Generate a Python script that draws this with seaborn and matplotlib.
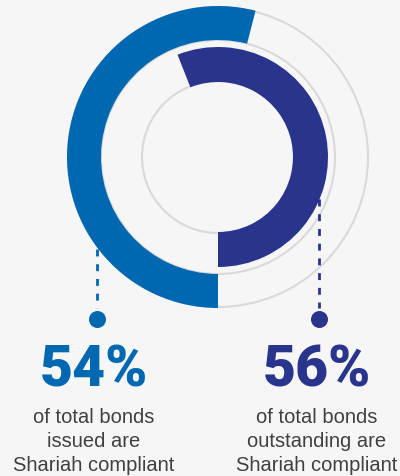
import matplotlib
matplotlib.use("Agg")
from matplotlib import pyplot as plt
import seaborn as sns

# shares of Shariah compliant bonds (percent)
labels = ["issued", "outstanding"]
shares = [54, 56]
pct_labels = ["54%", "56%"]
captions = [["of total bonds", "issued are", "Shariah compliant"],
            ["of total bonds", "outstanding are", "Shariah compliant"]]
colors = ["#0068b0", "#29348c"]

sns.set_theme(style="white")
plt.rcParams['font.family'] = ['Liberation Sans', 'DejaVu Sans']

bg = "#f6f6f6"
grey = "#d9d9d9"
fig = plt.figure(figsize=(4.0, 4.77), dpi=100, facecolor=bg)
ax = fig.add_axes([0, 0, 1, 1])
ax.set_facecolor(bg)

H = 477
cx, cy = 218, H - 158

# thin grey guide circles
for r in [150, 117, 76]:
    ax.add_patch(plt.Circle((cx, cy), r, fill=False, ec=grey, lw=1.5, zorder=1))

# outer ring: issued, clockwise from the bottom
ax.pie([shares[0], 100 - shares[0]], center=(cx, cy), radius=151,
       startangle=270, counterclock=False, colors=[colors[0], "none"],
       wedgeprops=dict(width=34, edgecolor="none"))
# inner ring: outstanding, counter-clockwise from the bottom
ax.pie([shares[1], 100 - shares[1]], center=(cx, cy), radius=110,
       startangle=270, counterclock=True, colors=[colors[1], "none"],
       wedgeprops=dict(width=35, edgecolor="none"))

# dotted leaders and dots
leaders = [(97, 250), (319, 200)]
for (lx, ly), c in zip(leaders, colors):
    ax.plot([lx, lx], [H - ly, H - 309], color=c, lw=2.0,
            linestyle=(0, (2.5, 2.8)), zorder=3)
    ax.scatter([lx], [H - 320], s=150, color=c, zorder=4, linewidths=0)

# text blocks
text_x = [94, 317]
for tx, pct, cap, c in zip(text_x, pct_labels, captions, colors):
    ax.text(tx, H - 387, pct, ha="center", va="baseline", fontsize=41,
            fontweight="black", color=c, family=["Roboto", "Liberation Sans"])
    for i, line in enumerate(cap):
        ax.text(tx, H - (423 + 24 * i), line, ha="center", va="baseline",
                fontsize=14.5, color="#404040")

ax.set_xlim(0, 400)
ax.set_ylim(0, H)
ax.set_aspect("equal")
ax.axis("off")

plt.savefig("out.png", dpi=100, facecolor=bg)
